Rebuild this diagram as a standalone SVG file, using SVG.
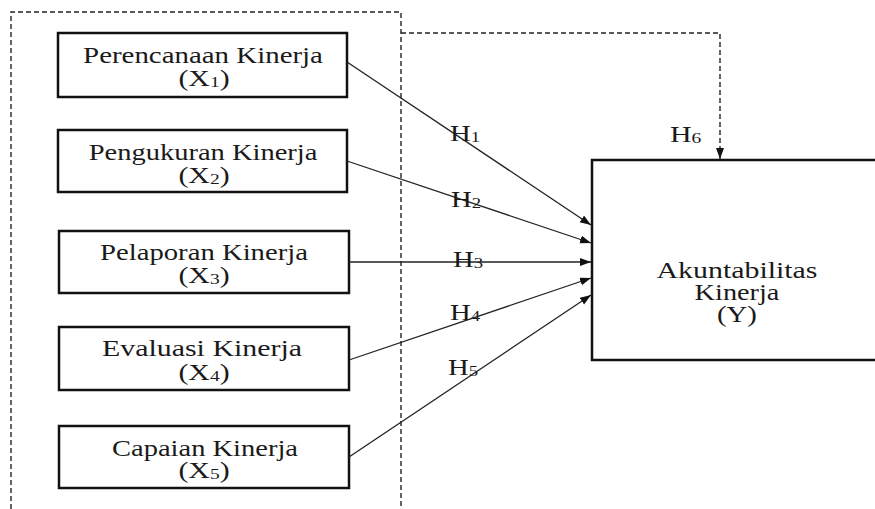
<svg xmlns="http://www.w3.org/2000/svg" width="875" height="509" viewBox="0 0 875 509">
<style>
.box{fill:#fff;stroke:#111;stroke-width:2.5}
.t{font-family:"Liberation Serif","Times New Roman",serif;font-size:23px;fill:#1a1a1a;text-anchor:middle}
.sub{font-size:15px}
.h{font-family:"Liberation Serif","Times New Roman",serif;font-size:23px;fill:#1a1a1a}
.ln{stroke:#222;stroke-width:1.3;fill:none}
.dash{stroke:#222;stroke-width:1.4;fill:none;stroke-dasharray:5 3}
</style>
<defs>
<marker id="ah" markerUnits="userSpaceOnUse" markerWidth="12" markerHeight="10" refX="11" refY="4" orient="auto">
<path d="M0,0 L11,4 L0,8 z" fill="#111"/>
</marker>
</defs>
<g id="group-frame">
<path class="dash" d="M11,509 V12 H401 V509"/>
</g>
<g id="x1">
<rect class="box" x="58" y="33" width="289" height="64"/>
<text class="t" transform="translate(203,63) scale(1.257,1)">Perencanaan Kinerja</text>
<text class="t" transform="translate(204,86) scale(1.3,1)">(X<tspan class="sub" dy="1">1</tspan><tspan dy="-1">)</tspan></text>
</g>
<g id="x2">
<rect class="box" x="58" y="130" width="289" height="62"/>
<text class="t" transform="translate(203,160) scale(1.24,1)">Pengukuran Kinerja</text>
<text class="t" transform="translate(204,183) scale(1.3,1)">(X<tspan class="sub" dy="1">2</tspan><tspan dy="-1">)</tspan></text>
</g>
<g id="x3">
<rect class="box" x="59" y="231" width="290" height="62"/>
<text class="t" transform="translate(204,260) scale(1.248,1)">Pelaporan Kinerja</text>
<text class="t" transform="translate(204,283) scale(1.3,1)">(X<tspan class="sub" dy="1">3</tspan><tspan dy="-1">)</tspan></text>
</g>
<g id="x4">
<rect class="box" x="59" y="327" width="290" height="63"/>
<text class="t" transform="translate(202,356) scale(1.3,1)">Evaluasi Kinerja</text>
<text class="t" transform="translate(204,380) scale(1.3,1)">(X<tspan class="sub" dy="1">4</tspan><tspan dy="-1">)</tspan></text>
</g>
<g id="x5">
<rect class="box" x="59" y="426" width="290" height="62"/>
<text class="t" transform="translate(205,456) scale(1.24,1)">Capaian Kinerja</text>
<text class="t" transform="translate(204,478) scale(1.3,1)">(X<tspan class="sub" dy="1">5</tspan><tspan dy="-1">)</tspan></text>
</g>
<g id="y">
<rect class="box" x="592" y="160" width="290" height="200"/>
<text class="t" transform="translate(737,278) scale(1.3,1)">Akuntabilitas</text>
<text class="t" transform="translate(737,300) scale(1.23,1)">Kinerja</text>
<text class="t" transform="translate(737,322) scale(1.25,1)">(Y)</text>
</g>
<g id="connectors">
<line class="ln" x1="347" y1="62" x2="591" y2="225" marker-end="url(#ah)"/>
<line class="ln" x1="347" y1="161" x2="591" y2="243" marker-end="url(#ah)"/>
<line class="ln" x1="349" y1="262" x2="591" y2="262" marker-end="url(#ah)"/>
<line class="ln" x1="349" y1="360" x2="591" y2="278" marker-end="url(#ah)"/>
<line class="ln" x1="349" y1="457" x2="591" y2="295" marker-end="url(#ah)"/>
<path class="dash" d="M401,33 H720 V159" marker-end="url(#ah)"/>
<text class="h" transform="translate(450,141) scale(1.25,1)">H<tspan class="sub" dy="1">1</tspan></text>
<text class="h" transform="translate(451,207) scale(1.25,1)">H<tspan class="sub" dy="1">2</tspan></text>
<text class="h" transform="translate(453,267) scale(1.25,1)">H<tspan class="sub" dy="1">3</tspan></text>
<text class="h" transform="translate(450,320) scale(1.25,1)">H<tspan class="sub" dy="1">4</tspan></text>
<text class="h" transform="translate(448,375) scale(1.25,1)">H<tspan class="sub" dy="1">5</tspan></text>
<text class="h" transform="translate(670,142) scale(1.3,1)">H<tspan class="sub" dy="1">6</tspan></text>
</g>
</svg>
